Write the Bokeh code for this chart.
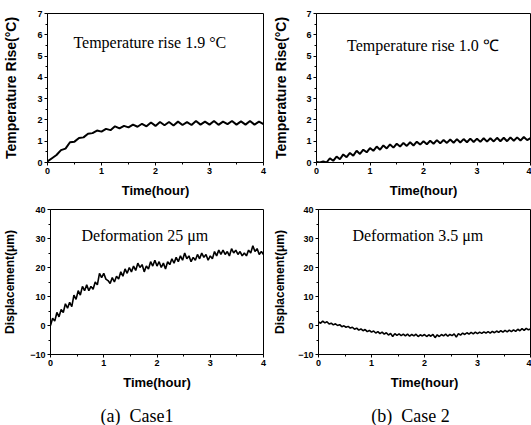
import numpy as np
from bokeh.plotting import figure
from bokeh.layouts import column, row
from bokeh.models import Range1d, FixedTicker, Label
from bokeh.embed import file_html
from bokeh.resources import INLINE

# ---------------- data ----------------
temp1 = [0.05, 0.2, 0.35, 0.58, 0.65, 0.95, 0.98, 1.15, 1.18, 1.35, 1.38, 1.5, 1.45,
         1.58, 1.52, 1.7, 1.6, 1.72, 1.65, 1.78, 1.68, 1.82, 1.7, 1.88, 1.72, 1.9,
         1.75, 1.9, 1.74, 1.92, 1.76, 1.9, 1.76, 1.95, 1.78, 1.92, 1.78, 1.95, 1.77,
         1.92, 1.8, 1.95, 1.78, 1.93, 1.78, 1.95, 1.78, 1.92, 1.8]

temp2 = [0.02, 0.0, 0.05, 0.0, 0.2, 0.08, 0.28, 0.15, 0.38, 0.25, 0.45, 0.32, 0.55,
         0.4, 0.6, 0.48, 0.68, 0.55, 0.75, 0.6, 0.8, 0.66, 0.85, 0.7, 0.88, 0.75,
         0.92, 0.78, 0.95, 0.8, 0.98, 0.84, 1.0, 0.86, 1.02, 0.88, 1.05, 0.9, 1.06,
         0.92, 1.08, 0.93, 1.1, 0.94, 1.1, 0.95, 1.12, 0.96, 1.12, 0.97, 1.14, 0.98,
         1.14, 0.99, 1.16, 1.0, 1.16, 1.0, 1.18, 1.02, 1.18, 1.03, 1.2, 1.05, 1.15]

disp1 = [0.0, 2.5, 1.5, 4.5, 3.0, 5.5, 4.5, 7.5, 6.0, 8.0, 6.5, 10.5, 9.0, 12.0, 10.5,
         13.5, 12.0, 14.0, 12.0, 13.5, 12.5, 15.0, 14.0, 18.0, 16.5, 18.0, 16.0, 15.5,
         14.5, 16.5, 15.0, 17.0, 16.0, 18.5, 17.0, 19.5, 18.0, 20.0, 18.5, 20.5, 19.0,
         21.5, 20.0, 21.0, 18.5, 20.5, 19.5, 22.0, 20.5, 22.5, 20.5, 22.0, 20.0, 21.5,
         19.5, 22.0, 21.0, 23.0, 21.5, 23.5, 22.0, 24.0, 22.5, 25.0, 23.0, 24.0, 22.0,
         23.5, 22.5, 24.5, 23.0, 25.0, 23.5, 24.5, 22.5, 24.0, 23.0, 25.5, 24.0, 26.0,
         24.5, 26.0, 24.5, 25.5, 24.0, 26.5, 25.0, 26.0, 24.5, 25.5, 24.0, 25.0, 24.0,
         26.0, 25.0, 27.5, 25.5, 26.5, 24.5, 25.5, 24.5]

disp2 = [1.2, 0.8, 1.5, 0.9, 1.3, 0.5, 0.8, 0.2, 0.6, 0.0, 0.3, -0.4, -0.1, -0.6, -0.3,
         -0.9, -0.6, -1.3, -0.9, -1.6, -1.2, -1.8, -1.4, -2.1, -1.7, -2.3, -1.9, -2.6,
         -2.1, -2.8, -2.3, -3.0, -2.5, -3.3, -2.7, -3.8, -2.8, -3.4, -2.9, -3.5, -3.0,
         -3.6, -3.0, -3.7, -3.1, -3.6, -3.0, -3.8, -3.2, -3.6, -3.1, -3.8, -3.2, -3.7,
         -3.1, -4.2, -3.2, -3.8, -3.1, -3.6, -3.0, -3.7, -3.1, -3.5, -2.9, -4.0, -2.8,
         -3.3, -2.6, -3.1, -2.5, -3.0, -2.4, -2.9, -2.3, -2.8, -2.3, -2.7, -2.2, -2.6,
         -2.1, -2.6, -2.0, -2.5, -1.9, -2.4, -1.8, -2.3, -1.7, -2.2, -1.6, -2.1, -1.5,
         -2.0, -1.3, -1.8, -1.1, -1.7, -1.0, -1.5, -1.2]

t_temp1 = np.linspace(0, 4, len(temp1))
t_temp2 = np.linspace(0, 4, len(temp2))
t_disp1 = np.linspace(0, 4, len(disp1))
t_disp2 = np.linspace(0, 4, len(disp2))

x_ticks = [0, 1, 2, 3, 4]
x_minor = [0.5, 1.5, 2.5, 3.5]
temp_ticks = [0, 1, 2, 3, 4, 5, 6, 7]
temp_minor = [0.5, 1.5, 2.5, 3.5, 4.5, 5.5, 6.5]
disp_ticks = [-10, 0, 10, 20, 30, 40]
disp_minor = [-5, 5, 15, 25, 35]

annotations = ["Temperature rise 1.9 \u00b0C", "Temperature rise 1.0 \u2103",
               "Deformation 25 \u03bcm", "Deformation 3.5 \u03bcm"]
captions = ["(a)\u00a0 Case1", "(b)\u00a0 Case 2"]
x_label = "Time(hour)"
y_label_temp = "Temperature Rise(\u00b0C)"
y_label_disp = "Displacement(\u03bcm)"

SANS = "Liberation Sans"
SERIF = "Liberation Serif"


def panel(width, height, bl, br, bt, bb, yrange, yticks, yminor, ylabel,
          ylabel_size, ylabel_standoff):
    p = figure(width=width, height=height, output_backend="svg",
               toolbar_location=None, x_range=Range1d(0, 4),
               y_range=Range1d(*yrange),
               min_border_left=bl, min_border_right=br,
               min_border_top=bt, min_border_bottom=bb)
    p.grid.visible = False
    p.outline_line_color = "black"
    p.outline_line_width = 1
    p.background_fill_color = "white"
    p.border_fill_color = "white"
    p.xaxis.ticker = FixedTicker(ticks=x_ticks, minor_ticks=x_minor)
    p.yaxis.ticker = FixedTicker(ticks=yticks, minor_ticks=yminor)
    for ax in (p.xaxis[0], p.yaxis[0]):
        ax.axis_line_color = "black"
        ax.major_tick_line_color = "black"
        ax.minor_tick_line_color = "black"
        ax.major_tick_out = 3
        ax.major_tick_in = 0
        ax.minor_tick_out = 2
        ax.minor_tick_in = 0
        ax.major_label_standoff = 2
        ax.major_label_text_font = SANS
        ax.major_label_text_font_style = "bold"
        ax.major_label_text_font_size = "9px"
        ax.major_label_text_color = "black"
        ax.axis_label_text_font = SANS
        ax.axis_label_text_font_style = "bold"
        ax.axis_label_text_color = "black"
    p.xaxis.axis_label = x_label
    p.xaxis.axis_label_text_font_size = "13px"
    p.xaxis.axis_label_standoff = 6
    p.yaxis.axis_label = ylabel
    p.yaxis.axis_label_text_font_size = ylabel_size
    p.yaxis.axis_label_standoff = ylabel_standoff
    return p


def note(p, text, x, y):
    p.add_layout(Label(x=x, y=y, text=text, text_font=SERIF,
                       text_font_size="16px", text_color="black",
                       text_baseline="middle", text_align="left"))


p1 = panel(270, 200, 43, 7, 13, 37, (0, 7), temp_ticks, temp_minor,
           y_label_temp, "14px", 15)
p1.line(t_temp1, temp1, line_color="black", line_width=2)
note(p1, annotations[0], 0.48, 5.65)

p2 = panel(261, 200, 42, 1, 13, 37, (0, 7), temp_ticks, temp_minor,
           y_label_temp, "14px", 14)
p2.line(t_temp2, temp2, line_color="black", line_width=2)
note(p2, annotations[1], 0.57, 5.5)

p3 = panel(270, 192, 45, 7, 9, 35, (-10, 40), disp_ticks, disp_minor,
           y_label_disp, "12px", 10)
p3.line(t_disp1, disp1, line_color="black", line_width=1.6)
note(p3, annotations[2], 0.58, 31.2)

p4 = panel(261, 192, 42, 1, 9, 35, (-10, 40), disp_ticks, disp_minor,
           y_label_disp, "12px", 8)
p4.line(t_disp2, disp2, line_color="black", line_width=1.6)
note(p4, annotations[3], 0.64, 30.9)


def caption_fig(width, bl, br, text, xpos):
    c = figure(width=width, height=33, output_backend="svg",
               toolbar_location=None, x_range=Range1d(0, 4),
               y_range=Range1d(0, 1), min_border_left=bl, min_border_right=br,
               min_border_top=0, min_border_bottom=0)
    c.axis.visible = False
    c.grid.visible = False
    c.outline_line_color = None
    c.add_layout(Label(x=xpos, y=0.3, text=text, text_font=SERIF,
                       text_font_size="18px", text_color="black",
                       text_baseline="middle", text_align="center"))
    return c


c1 = caption_fig(270, 43, 7, captions[0], 1.7)
c2 = caption_fig(261, 42, 1, captions[1], 1.8)

layout = column(row(p1, p2), row(p3, p4), row(c1, c2))

open("out.html", "w").write(file_html(layout, INLINE))
